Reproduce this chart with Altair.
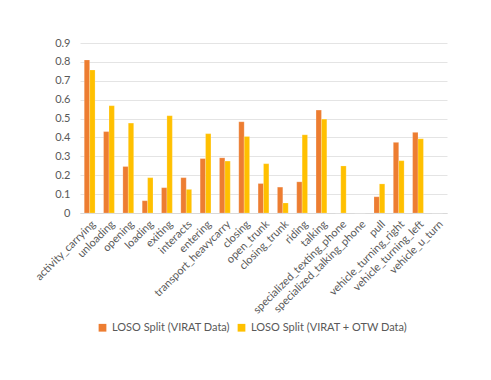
import altair as alt
import pandas as pd

categories = ["activity_carrying", "unloading", "opening", "loading", "exiting",
              "interacts", "entering", "transport_heavycarry", "closing", "open_trunk",
              "closing_trunk", "riding", "talking", "specialized_texting_phone",
              "specialized_talking_phone", "pull", "vehicle_turning_right",
              "vehicle_turning_left", "vehicle_u_turn"]
virat = [0.81, 0.431, 0.246, 0.065, 0.134, 0.187, 0.288, 0.292, 0.483, 0.156,
         0.137, 0.165, 0.545, 0.0, 0.0, 0.086, 0.374, 0.427, 0.0]
virat_otw = [0.757, 0.568, 0.476, 0.187, 0.515, 0.125, 0.42, 0.275, 0.405, 0.261,
             0.053, 0.414, 0.497, 0.249, 0.0, 0.154, 0.277, 0.393, 0.0]
series = ["LOSO Split (VIRAT Data)", "LOSO Split (VIRAT + OTW Data)"]
colors = ["#ED7D31", "#FFC000"]

rows = []
for i, c in enumerate(categories):
    rows.append({"category": c, "series": series[0], "value": virat[i]})
    rows.append({"category": c, "series": series[1], "value": virat_otw[i]})
df = pd.DataFrame(rows)

FONT = "Lato"
GRAY = "#595959"

chart = alt.Chart(df).mark_bar(stroke="#ffffff", strokeOpacity=0.4, strokeWidth=0.5).encode(
    x=alt.X("category:N", sort=categories,
            scale=alt.Scale(paddingInner=0.44, paddingOuter=0.22),
            axis=alt.Axis(title=None, labelAngle=-45, ticks=False, domainColor="#d9d9d9",
                          labelColor=GRAY, labelFont=FONT, labelFontSize=11,
                          labelPadding=5, labelLimit=300)),
    xOffset=alt.XOffset("series:N", sort=series),
    y=alt.Y("value:Q", scale=alt.Scale(domain=[0, 0.9]),
            axis=alt.Axis(title=None, values=[0, 0.1, 0.2, 0.3, 0.4, 0.5, 0.6, 0.7, 0.8, 0.9],
                          format="~g", ticks=False, domain=False, gridColor="#e4e4e4",
                          labelColor=GRAY, labelFont=FONT, labelFontSize=11, labelPadding=10)),
    color=alt.Color("series:N", sort=series,
                    scale=alt.Scale(domain=series, range=colors),
                    legend=alt.Legend(title=None, orient="none", direction="horizontal",
                                      legendX=17, legendY=279, symbolType="square",
                                      symbolSize=60, symbolStrokeWidth=0,
                                      labelFont=FONT, labelFontSize=11, labelColor=GRAY,
                                      columnPadding=6, labelLimit=300)),
).properties(
    width=367, height=170,
    autosize=alt.AutoSizeParams(type="none"),
    padding={"left": 72, "top": 35, "right": 36, "bottom": 159},
).configure_view(stroke=None)

chart.save("out.html", embed_options={"renderer": "svg", "actions": False})
